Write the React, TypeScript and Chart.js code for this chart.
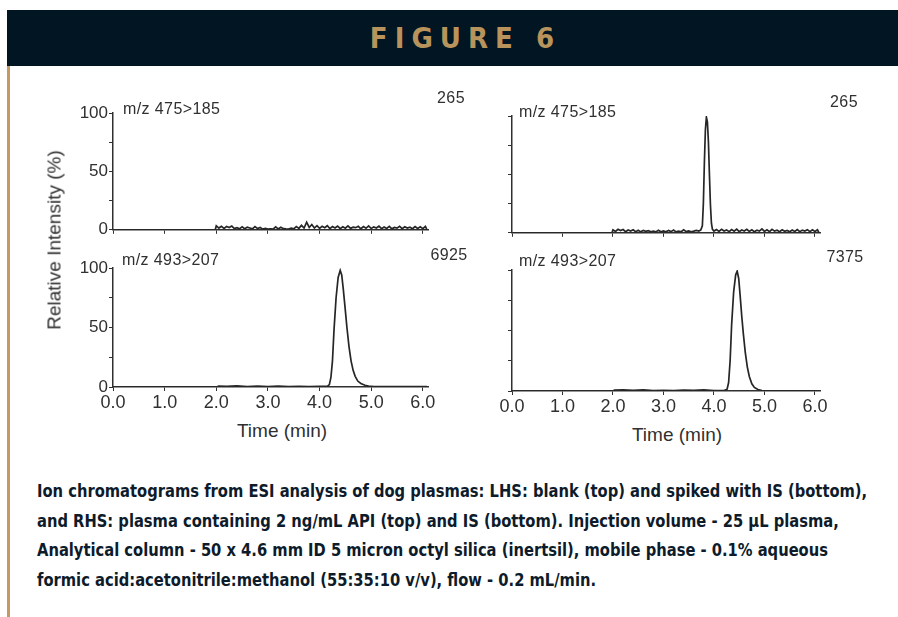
import React, { useEffect, useRef } from "react";
import { Chart, registerables } from "chart.js";

Chart.register(...registerables);

// ---------- DATA ----------
// Top-left: blank plasma, m/z 475>185
const tlTime = [0.0, 1.98, 2.0, 2.05, 2.1, 2.15, 2.2, 2.25, 2.3, 2.35, 2.4, 2.45, 2.5, 2.55, 2.6, 2.65, 2.7, 2.75, 2.8, 2.85, 2.9, 2.95, 3.0, 3.05, 3.1, 3.15, 3.2, 3.25, 3.3, 3.35, 3.4, 3.45, 3.5, 3.55, 3.6, 3.65, 3.7, 3.75, 3.8, 3.85, 3.9, 3.95, 4.0, 4.05, 4.1, 4.15, 4.2, 4.25, 4.3, 4.35, 4.4, 4.45, 4.5, 4.55, 4.6, 4.65, 4.7, 4.75, 4.8, 4.85, 4.9, 4.95, 5.0, 5.05, 5.1, 5.15, 5.2, 5.25, 5.3, 5.35, 5.4, 5.45, 5.5, 5.55, 5.6, 5.65, 5.7, 5.75, 5.8, 5.85, 5.9, 5.95, 6.0, 6.05, 6.08];
const tlValue = [0, 0, 3.5, 1.5, 3.0, 1.2, 2.8, 2.0, 3.2, 1.0, 1.8, 0.8, 2.5, 1.0, 2.2, 1.5, 0.8, 2.8, 1.0, 2.0, 0.6, 1.2, 0.7, 0.8, 0.6, 2.5, 0.8, 2.2, 1.0, 0.8, 0.7, 1.5, 0.8, 2.8, 1.2, 3.8, 1.5, 6.5, 2.0, 4.5, 1.5, 3.5, 1.2, 3.0, 1.8, 3.5, 1.0, 2.8, 1.5, 3.2, 1.0, 2.6, 1.4, 3.4, 1.2, 2.2, 1.8, 3.0, 0.9, 2.7, 1.3, 3.3, 1.1, 2.5, 1.6, 3.1, 1.0, 2.4, 1.2, 2.9, 0.8, 2.0, 1.4, 3.0, 1.0, 2.6, 1.5, 2.2, 0.9, 2.8, 1.2, 2.5, 1.0, 3.0, 0];

// Top-right: plasma with 2 ng/mL API, m/z 475>185
const trTime = [0.0, 1.98, 2.0, 2.05, 2.1, 2.15, 2.2, 2.25, 2.3, 2.35, 2.4, 2.45, 2.5, 2.55, 2.6, 2.65, 2.7, 2.75, 2.8, 2.85, 2.9, 2.95, 3.0, 3.05, 3.1, 3.15, 3.2, 3.25, 3.3, 3.35, 3.4, 3.45, 3.5, 3.55, 3.6, 3.65, 3.7, 3.74, 3.77, 3.79, 3.81, 3.83, 3.85, 3.87, 3.89, 3.91, 3.93, 3.95, 3.97, 4.0, 4.05, 4.1, 4.15, 4.2, 4.25, 4.3, 4.35, 4.4, 4.45, 4.5, 4.55, 4.6, 4.65, 4.7, 4.75, 4.8, 4.85, 4.9, 4.95, 5.0, 5.05, 5.1, 5.15, 5.2, 5.25, 5.3, 5.35, 5.4, 5.45, 5.5, 5.55, 5.6, 5.65, 5.7, 5.75, 5.8, 5.85, 5.9, 5.95, 6.0, 6.05, 6.08];
const trValue = [0, 0, 2.5, 1.2, 3.0, 2.0, 2.8, 1.0, 2.4, 1.5, 2.6, 1.0, 2.2, 0.8, 2.0, 1.2, 1.8, 0.8, 1.5, 0.8, 2.2, 0.9, 1.6, 0.8, 2.0, 1.0, 2.4, 0.8, 1.5, 0.9, 2.6, 1.0, 1.6, 0.9, 1.4, 2.0, 1.5, 2.5, 6, 25, 60, 88, 99, 95, 78, 50, 24, 8, 3, 1.5, 2.8, 1.2, 3.0, 1.5, 2.5, 1.0, 2.8, 1.4, 3.2, 1.0, 2.4, 1.6, 3.0, 1.2, 2.6, 1.0, 2.2, 1.5, 3.4, 1.2, 2.5, 1.0, 2.9, 1.4, 2.2, 1.0, 2.6, 1.3, 2.0, 0.9, 2.4, 1.2, 2.8, 1.0, 2.3, 1.5, 2.7, 1.0, 2.5, 1.2, 2.6, 0];

// Bottom-left: spiked with IS, m/z 493>207
const blTime = [0.0, 2.0, 2.05, 2.2, 2.4, 2.6, 2.8, 3.0, 3.2, 3.4, 3.6, 3.8, 4.0, 4.15, 4.19, 4.22, 4.25, 4.28, 4.32, 4.36, 4.4, 4.43, 4.46, 4.5, 4.53, 4.57, 4.61, 4.65, 4.69, 4.74, 4.8, 4.88, 4.95, 5.05, 5.5, 6.08];
const blValue = [0, 0, 0.8, 0.5, 0.9, 0.4, 0.8, 0.4, 0.7, 0.3, 0.6, 0.4, 0.6, 0.5, 2, 8, 22, 48, 75, 92, 98, 94, 82, 64, 50, 34, 22, 14, 9, 5, 3, 1.5, 0.8, 0.4, 0.3, 0.3];

// Bottom-right: IS, m/z 493>207
const brTime = [0.0, 2.0, 2.03, 2.2, 2.4, 2.6, 2.8, 3.0, 3.2, 3.4, 3.6, 3.8, 4.0, 4.2, 4.26, 4.29, 4.32, 4.35, 4.39, 4.43, 4.46, 4.49, 4.52, 4.55, 4.58, 4.62, 4.66, 4.7, 4.75, 4.8, 4.87, 4.95, 5.1, 6.08];
const brValue = [0, 0, 0.8, 1.0, 0.6, 1.0, 0.4, 0.6, 0.4, 0.8, 0.5, 0.9, 0.4, 0.3, 1.5, 7, 25, 55, 82, 96, 99, 93, 78, 62, 48, 32, 20, 12, 6, 3, 1.2, 0.4, 0.2, 0.2];

const xTickLabels = ["0.0", "1.0", "2.0", "3.0", "4.0", "5.0", "6.0"];
const yTickLabels = ["0", "50", "100"];

const channelTop = "m/z 475>185";
const channelBottom = "m/z 493>207";
const countTL = "265";
const countTR = "265";
const countBL = "6925";
const countBR = "7375";

const captionLines = [
  "Ion chromatograms from ESI analysis of dog plasmas: LHS: blank (top) and spiked with IS (bottom),",
  "and RHS: plasma containing 2 ng/mL API (top) and IS (bottom). Injection volume - 25 \u00b5L plasma,",
  "Analytical column - 50 x 4.6 mm ID 5 micron octyl silica (inertsil), mobile phase - 0.1% aqueous",
  "formic acid:acetonitrile:methanol (55:35:10 v/v), flow - 0.2 mL/min.",
];

// ---------- STYLE ----------
const FONT = "'Liberation Sans', Arial, sans-serif";
const NARROW = "'Liberation Sans Narrow', 'DejaVu Sans Condensed', sans-serif";
const INK = "#303030";
const Y_W = 50;
const PAD_T = 14;
const PAD_R = 22;

type PanelProps = {
  time: number[];
  value: number[];
  area: { left: number; right: number; top: number; bottom: number };
  xLabels: boolean;
  yLabels: boolean;
};

function Panel({ time, value, area, xLabels, yLabels }: PanelProps) {
  const ref = useRef<HTMLCanvasElement>(null);
  const X_H = xLabels ? 30 : 8;
  const w = area.right - area.left + Y_W + PAD_R;
  const h = area.bottom - area.top + PAD_T + X_H;

  useEffect(() => {
    const data = time.map((t, i) => ({ x: t, y: value[i] }));
    const chart = new Chart(ref.current as HTMLCanvasElement, {
      type: "scatter",
      data: {
        datasets: [
          {
            data,
            showLine: true,
            borderColor: "#262626",
            borderWidth: 1.7,
            pointRadius: 0,
            tension: 0,
          },
        ],
      },
      options: {
        animation: false,
        responsive: false,
        maintainAspectRatio: false,
        plugins: { legend: { display: false }, tooltip: { enabled: false } },
        layout: { padding: { top: PAD_T, right: PAD_R, left: 0, bottom: 0 } },
        scales: {
          x: {
            type: "linear",
            min: 0,
            max: 6.1,
            afterFit: (s: any) => {
              s.height = X_H;
            },
            ticks: {
              stepSize: 1,
              includeBounds: false,
              display: xLabels,
              autoSkip: false,
              maxRotation: 0,
              padding: 1,
              color: INK,
              font: { family: FONT, size: 18 },
              callback: (v: any) => xTickLabels[Math.round(Number(v))] ?? "",
            },
            grid: {
              drawOnChartArea: false,
              drawTicks: true,
              tickLength: 4,
              tickColor: INK,
              tickWidth: 1,
            },
            border: { display: true, color: INK, width: 1.5 },
          },
          y: {
            type: "linear",
            min: 0,
            max: 100,
            afterFit: (s: any) => {
              s.width = Y_W;
            },
            ticks: {
              stepSize: 25,
              padding: 1,
              color: INK,
              font: { family: FONT, size: 17 },
              callback: (v: any) => {
                if (!yLabels) return "";
                const idx = [0, 50, 100].indexOf(Number(v));
                return idx >= 0 ? yTickLabels[idx] : "";
              },
            },
            grid: {
              drawOnChartArea: false,
              drawTicks: true,
              tickLength: 4,
              tickColor: INK,
              tickWidth: 1,
            },
            border: { display: true, color: INK, width: 1.5 },
          },
        },
      },
    });
    return () => chart.destroy();
  }, []);

  return (
    <canvas
      ref={ref}
      width={w}
      height={h}
      style={{
        position: "absolute",
        left: area.left - Y_W,
        top: area.top - PAD_T,
        width: w,
        height: h,
      }}
    />
  );
}

function Txt({
  x,
  y,
  children,
  size = 16,
  spacing = 0.4,
  align = "left",
}: {
  x: number;
  y: number;
  children: React.ReactNode;
  size?: number;
  spacing?: number;
  align?: "left" | "center";
}) {
  const tx = align === "center" ? "-50%" : "0";
  return (
    <div
      style={{
        position: "absolute",
        left: x,
        top: y,
        transform: `translate(${tx}, -50%)`,
        fontFamily: FONT,
        fontSize: size,
        letterSpacing: spacing,
        color: INK,
        whiteSpace: "nowrap",
        lineHeight: 1,
      }}
    >
      {children}
    </div>
  );
}

export default function App() {
  return (
    <div
      style={{
        position: "absolute",
        left: 0,
        top: 0,
        width: 898,
        height: 617,
        background: "#ffffff",
        overflow: "hidden",
      }}
    >
      {/* header band */}
      <div
        style={{
          position: "absolute",
          left: 7,
          top: 10,
          width: 891,
          height: 56,
          background: "#011522",
        }}
      />
      <div
        style={{
          position: "absolute",
          left: 7,
          top: 10,
          width: 891,
          height: 56,
          display: "flex",
          alignItems: "center",
          justifyContent: "center",
          fontFamily: NARROW,
          fontWeight: "bold",
          fontSize: 29,
          letterSpacing: 7,
          color: "#b8935b",
          paddingLeft: 26,
          boxSizing: "border-box",
        }}
      >
        FIGURE 6
      </div>
      {/* left gold rule */}
      <div
        style={{
          position: "absolute",
          left: 7,
          top: 66,
          width: 3,
          height: 551,
          background: "#c49a62",
        }}
      />

      <Panel time={tlTime} value={tlValue} area={{ left: 113, right: 428, top: 113, bottom: 233 }} xLabels={false} yLabels={true} />
      <Panel time={trTime} value={trValue} area={{ left: 512, right: 820, top: 116, bottom: 236 }} xLabels={false} yLabels={false} />
      <Panel time={blTime} value={blValue} area={{ left: 113, right: 428, top: 268, bottom: 387 }} xLabels={true} yLabels={true} />
      <Panel time={brTime} value={brValue} area={{ left: 512, right: 820, top: 270, bottom: 391 }} xLabels={true} yLabels={false} />

      <Txt x={123} y={109}>{channelTop}</Txt>
      <Txt x={519} y={112}>{channelTop}</Txt>
      <Txt x={122} y={260}>{channelBottom}</Txt>
      <Txt x={519} y={261}>{channelBottom}</Txt>

      <Txt x={451} y={98} align="center">{countTL}</Txt>
      <Txt x={844} y={102} align="center">{countTR}</Txt>
      <Txt x={449} y={255} align="center">{countBL}</Txt>
      <Txt x={845} y={257} align="center">{countBR}</Txt>

      <Txt x={282} y={430} size={19} spacing={0} align="center">Time (min)</Txt>
      <Txt x={677} y={434} size={19} spacing={0} align="center">Time (min)</Txt>

      <div
        style={{
          position: "absolute",
          left: 54,
          top: 240,
          transform: "translate(-50%, -50%) rotate(-90deg)",
          fontFamily: FONT,
          fontSize: 19,
          color: INK,
          whiteSpace: "nowrap",
          lineHeight: 1,
        }}
      >
        Relative Intensity (%)
      </div>

      {/* caption */}
      {captionLines.map((line, i) => (
        <div
          key={i}
          style={{
            position: "absolute",
            left: 37,
            top: 492 + i * 29.7,
            transform: "translateY(-50%) scaleX(0.935)",
            transformOrigin: "0 50%",
            fontFamily: NARROW,
            fontWeight: "bold",
            fontSize: 17.5,
            color: "#0d1b2a",
            whiteSpace: "nowrap",
            lineHeight: 1,
          }}
        >
          {line}
        </div>
      ))}
    </div>
  );
}
